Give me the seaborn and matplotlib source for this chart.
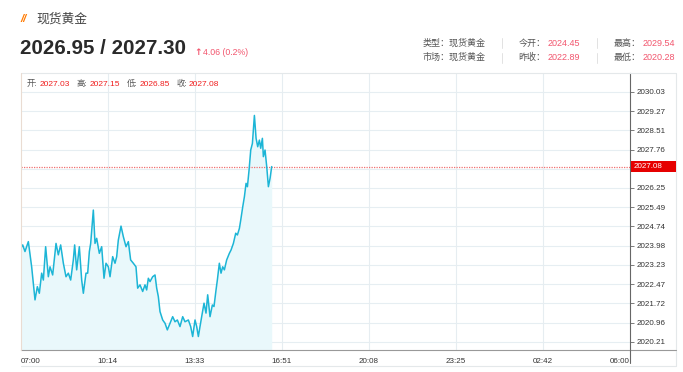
import numpy as np
import pandas as pd
import matplotlib
matplotlib.use("Agg")
import matplotlib.pyplot as plt
from matplotlib.lines import Line2D
from matplotlib.patches import Rectangle
import seaborn as sns

# ---------------- data ----------------
minutes = [0, 4.5, 9.7, 17.3, 24.8, 32.4, 37.7, 42.2, 47.5, 51.3, 56.5, 62.6, 66.4, 72.4,
           80.0, 85.2, 90.5, 96.6, 102.6, 107.9, 113.2, 119.2, 122.2, 126.8, 132.8, 138.1,
           141.9, 147.9, 151.7, 155.5, 158.5, 164.5, 168.3, 172.1, 178.1, 183.4, 188.7,
           193.2, 198.5, 202.3, 208.3, 213.6, 217.4, 221.1, 227.2, 232.4, 238.5, 243.8,
           249.0, 255.1, 261.1, 264.9, 270.2, 276.3, 281.5, 285.3, 289.1, 292.9, 298.9,
           304.2, 308.0, 311.7, 315.5, 321.6, 326.9, 332.1, 338.2, 344.2, 349.5, 354.8,
           360.8, 366.9, 372.1, 379.7, 385.0, 389.5, 394.8, 398.6, 402.4, 406.1, 409.9,
           415.2, 419.7, 423.5, 428.8, 434.1, 437.8, 442.4, 445.4, 449.9, 453.7, 457.5,
           461.3, 466.5, 472.6, 476.4, 481.7, 487.0, 490.8, 495.3, 498.4, 502.9, 506.7,
           510.4, 513.5, 517.2, 521.0, 524.8, 529.3, 533.1, 536.8, 540.6, 543.6, 547.4,
           549.6, 553.4, 557.2, 561.0, 564.8, 568.5]
prices = [2023.88, 2024.01, 2023.75, 2024.14, 2023.15, 2021.85, 2022.37, 2022.11, 2022.90,
          2022.63, 2023.94, 2022.76, 2023.15, 2022.83, 2024.07, 2023.62, 2024.01, 2023.29,
          2022.76, 2022.90, 2022.63, 2023.42, 2024.01, 2023.03, 2023.94, 2022.63, 2022.11,
          2022.90, 2022.90, 2023.75, 2024.07, 2025.38, 2024.07, 2024.27, 2023.68, 2023.94,
          2022.70, 2023.29, 2023.15, 2022.76, 2023.55, 2023.29, 2023.55, 2024.20, 2024.75,
          2024.34, 2023.94, 2024.14, 2023.42, 2023.29, 2023.15, 2022.31, 2022.44, 2022.18,
          2022.44, 2022.24, 2022.70, 2022.57, 2022.76, 2022.83, 2022.31, 2021.98, 2021.39,
          2021.06, 2020.93, 2020.67, 2020.93, 2021.19, 2020.99, 2021.06, 2020.80, 2021.19,
          2020.99, 2021.06, 2020.80, 2020.41, 2021.06, 2020.80, 2020.41, 2020.80, 2021.19,
          2021.72, 2021.33, 2022.05, 2021.19, 2021.65, 2021.59, 2022.24, 2022.63, 2023.29,
          2022.90, 2023.15, 2023.03, 2023.42, 2023.68, 2023.81, 2024.07, 2024.47, 2024.40,
          2024.66, 2024.99, 2025.51, 2025.91, 2026.43, 2026.30, 2026.95, 2027.74, 2028.00,
          2029.10, 2028.20, 2027.87, 2028.13, 2027.81, 2028.20, 2027.48, 2027.74, 2027.09,
          2026.30, 2026.63, 2027.09]

last_price = 2027.08
y_ticks = [2020.21, 2020.96, 2021.72, 2022.47, 2023.23, 2023.98, 2024.74, 2025.49,
           2026.25, 2027.00, 2027.76, 2028.51, 2029.27, 2030.03]
x_tick_labels = ["07:00", "10:14", "13:33", "16:51", "20:08", "23:25", "02:42", "06:00"]
session_minutes = 1380

title = "现货黄金"
quote = "2026.95 / 2027.30"
change = "4.06 (0.2%)"
info_row1 = [("类型：", "现货黄金"), ("今开：", "2024.45"), ("最高：", "2029.54")]
info_row2 = [("市场：", "现货黄金"), ("昨收：", "2022.89"), ("最低：", "2020.28")]
ohlc = [("开:", "2027.03"), ("高:", "2027.15"), ("低:", "2026.85"), ("收:", "2027.08")]

# ---------------- style ----------------
sns.set_style("white")
plt.rcParams["font.family"] = ["Liberation Sans", "Noto Sans CJK SC", "DejaVu Sans"]

W, H = 683, 372
fig = plt.figure(figsize=(W / 100, H / 100), dpi=100)

def fx(x):
    return x / W

def fy(y):
    return 1 - y / H

ax_l, ax_r, ax_t, ax_b = 20.7, 630.0, 72.7, 350.0
ax = fig.add_axes([fx(ax_l), fy(ax_b), fx(ax_r - ax_l), (ax_b - ax_t) / H])

df = pd.DataFrame({"minute": minutes, "price": prices})
line_color = "#1cb5d6"
ax.fill_between(df["minute"], df["price"], 2019.0, color="#e9f8fb", lw=0, zorder=1)
sns.lineplot(data=df, x="minute", y="price", ax=ax, color=line_color, lw=1.1, zorder=3)

ax.set_xlim(0, session_minutes)
ax.set_ylim(2019.88, 2030.78)

xt = np.linspace(0, session_minutes, len(x_tick_labels))
ax.set_xticks(xt)
ax.set_xticklabels(x_tick_labels)
for i, lab in enumerate(ax.get_xticklabels()):
    if i == 0:
        lab.set_ha("left")
    elif i == len(x_tick_labels) - 1:
        lab.set_ha("right")
ax.set_yticks(y_ticks)
ax.set_yticklabels(["" if abs(v - 2027.00) < 1e-6 else f"{v:.2f}" for v in y_ticks])
ax.yaxis.tick_right()
ax.tick_params(axis="y", length=3, width=0.6, color="#666", pad=1.5,
               labelsize=5.8, labelcolor="#333")
ax.tick_params(axis="x", length=3, width=0.6, color="#888", pad=3,
               labelsize=5.8, labelcolor="#333")
ax.set_xlabel("")
ax.set_ylabel("")

for v in y_ticks:
    ax.axhline(v, color="#e6eef2", lw=0.8, zorder=0.5)
for v in xt[1:-1]:
    ax.axvline(v, color="#e6edf1", lw=0.8, zorder=0.5)

ax.axhline(last_price, color="#f07070", lw=0.9, ls=(0, (1, 1)), zorder=2)

for s in ["top", "left"]:
    ax.spines[s].set_visible(False)
ax.spines["right"].set_color("#666")
ax.spines["right"].set_linewidth(0.8)
ax.spines["bottom"].set_color("#999")
ax.spines["bottom"].set_linewidth(0.8)

# frame
fig.add_artist(Line2D([fx(ax_l), fx(676)], [fy(ax_t), fy(ax_t)], color="#e4e8ea", lw=0.8))
fig.add_artist(Line2D([fx(ax_l), fx(ax_l)], [fy(ax_t), fy(ax_b)], color="#eadcd2", lw=0.8))
fig.add_artist(Line2D([fx(676), fx(676)], [fy(ax_t), fy(366)], color="#e4e8ea", lw=0.8))
fig.add_artist(Line2D([fx(ax_l), fx(676)], [fy(366), fy(366)], color="#e4e8ea", lw=0.8))
fig.add_artist(Line2D([fx(ax_r), fx(676)], [fy(ax_b), fy(ax_b)], color="#999", lw=0.8))
fig.add_artist(Line2D([fx(ax_r), fx(ax_r)], [fy(ax_b), fy(363)], color="#666", lw=0.8))

# red current price label
y_lp = ax.transData.transform((0, last_price))[1]
y_lp_px = H - y_lp
fig.add_artist(Rectangle((fx(631), fy(y_lp_px + 5.5)), fx(45), 11 / H,
                         facecolor="#e60000", edgecolor="none", zorder=10))
fig.text(fx(634), fy(y_lp_px), f"{last_price:.2f}", color="white", fontsize=5.8,
         va="center", ha="left", zorder=11)

# ---------------- header ----------------
fig.text(fx(20.5), fy(19.5), "//", color="#ff7a00", fontsize=8, fontweight="bold",
         style="italic", va="center", ha="left")
fig.text(fx(36), fy(19.3), title, color="#444", fontsize=9.2, va="center", ha="left",
         family=["Noto Sans CJK SC", "DejaVu Sans"])
fig.text(fx(19.5), fy(48), quote, color="#2a2a2a", fontsize=14.8, fontweight="bold",
         va="center", ha="left", family=["Liberation Sans", "DejaVu Sans"])
red_soft = "#f2566e"
fig.text(fx(194.5), fy(52.5), "↑", color=red_soft, fontsize=6.5, fontweight="bold",
         va="center", ha="left", family=["DejaVu Sans"])
fig.text(fx(203), fy(52.5), change, color=red_soft, fontsize=6.3, va="center", ha="left")

col_x = [422.7, 518.7, 613.3]
val_x = [None, 547.7, 642.7]
for row_y, row in [(43.3, info_row1), (57.5, info_row2)]:
    for i, (lab, val) in enumerate(row):
        if i == 0:
            fig.text(fx(col_x[i]), fy(row_y), lab + val, color="#555", fontsize=6.5,
                     va="center", ha="left")
        else:
            fig.text(fx(col_x[i]), fy(row_y), lab, color="#555", fontsize=6.5,
                     va="center", ha="left")
            fig.text(fx(val_x[i]), fy(row_y), val, color=red_soft, fontsize=6.5,
                     va="center", ha="left")
for sx in [502.3, 596.7]:
    for row_y in [43.3, 57.5]:
        fig.add_artist(Line2D([fx(sx), fx(sx)], [fy(row_y - 5), fy(row_y + 5)],
                              color="#e2e2e2", lw=0.7))

# OHLC legend row
lab_x = [26.5, 76.5, 126.5, 176.5]
num_x = [39.3, 89.3, 139.3, 188.7]
for (lab, val), lx, nx in zip(ohlc, lab_x, num_x):
    fig.text(fx(lx), fy(84), lab, color="#555", fontsize=6, va="center", ha="left")
    fig.text(fx(nx), fy(84), val, color="#f01e1e", fontsize=6, va="center", ha="left")

fig.savefig("out.png", dpi=100)
